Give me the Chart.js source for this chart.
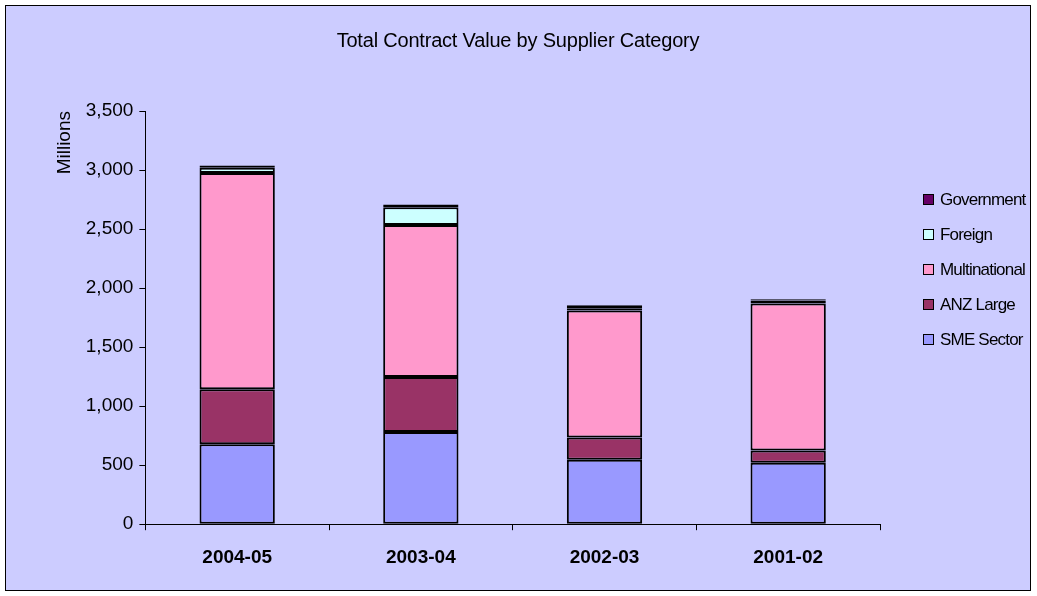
<!DOCTYPE html>
<html>
<head>
<meta charset="utf-8">
<script src="https://cdn.jsdelivr.net/npm/chart.js@4"></script>
<style>
  body { margin: 0; background: #fff; font-family: "Liberation Sans", Arial, sans-serif; }
  #frame { position: absolute; left: 5px; top: 5px; width: 1024px; height: 584px;
           border: 1px solid #000; background: #ccccff; }
  #wrap { position: absolute; left: 0; top: 0; width: 1024px; height: 584px; }
  #title { position: absolute; left: 0; top: 23px; width: 1024px; text-align: center; font-size: 20px; letter-spacing: -0.2px; }
  #legend { position: absolute; left: 917px; top: 176px; font-size: 17px; letter-spacing: -0.8px; }
  #legend div { height: 35px; display: flex; align-items: center; }
  #legend span.box { display: inline-block; width: 9px; height: 9px; border: 1px solid #000; margin-right: 6px; }
</style>
</head>
<body>
<div id="frame">
  <div id="wrap"><canvas id="chart"></canvas></div>
  <div id="title">Total Contract Value by Supplier Category</div>
  <div id="legend"></div>
</div>
<script>
const years = ['2004-05', '2003-04', '2002-03', '2001-02'];
const sme = [678, 780, 545, 520];
const anzLarge = [466, 466, 190, 105];
const multinational = [1830, 1288, 1075, 1245];
const foreign = [45, 150, 20, 25];
const government = [20, 25, 25, 10];

const seriesNames = ['SME Sector', 'ANZ Large', 'Multinational', 'Foreign', 'Government'];
const seriesColors = ['#9999ff', '#993366', '#ff99cc', '#ccffff', '#660066'];
const seriesValues = [sme, anzLarge, multinational, foreign, government];

const datasets = seriesNames.map((name, i) => ({
  label: name,
  data: seriesValues[i],
  backgroundColor: seriesColors[i],
  borderColor: '#000',
  borderWidth: 2,
  borderSkipped: false,
  categoryPercentage: 0.82,
  barPercentage: 0.5
}));

// legend (reversed, like the original)
const legendEl = document.getElementById('legend');
for (let i = seriesNames.length - 1; i >= 0; i--) {
  const row = document.createElement('div');
  row.innerHTML = `<span class="box" style="background:${seriesColors[i]}"></span>${seriesNames[i]}`;
  legendEl.appendChild(row);
}

Chart.defaults.font.family = '"Liberation Sans", Arial, sans-serif';
Chart.defaults.color = '#000';

new Chart(document.getElementById('chart'), {
  type: 'bar',
  data: { labels: years, datasets: datasets },
  options: {
    responsive: true,
    maintainAspectRatio: false,
    animation: false,
    layout: { padding: { left: 43, right: 150, top: 105, bottom: 5 } },
    plugins: {
      legend: { display: false },
      tooltip: { enabled: false }
    },
    scales: {
      x: {
        stacked: true,
        grid: { display: true, drawOnChartArea: false, offset: true, color: '#000', tickLength: 6 },
        border: { color: '#000', width: 1 },
        ticks: { font: { size: 19, weight: 'bold' }, padding: 16 }
      },
      y: {
        stacked: true,
        min: 0,
        max: 3500,
        ticks: { stepSize: 500, font: { size: 19 }, padding: 6 },
        grid: { display: true, drawOnChartArea: false, color: '#000', tickLength: 6 },
        border: { color: '#000', width: 1 },
        title: { display: true, text: 'Millions', align: 'end', font: { size: 19 }, padding: { bottom: 4 } }
      }
    }
  }
});
</script>
</body>
</html>
